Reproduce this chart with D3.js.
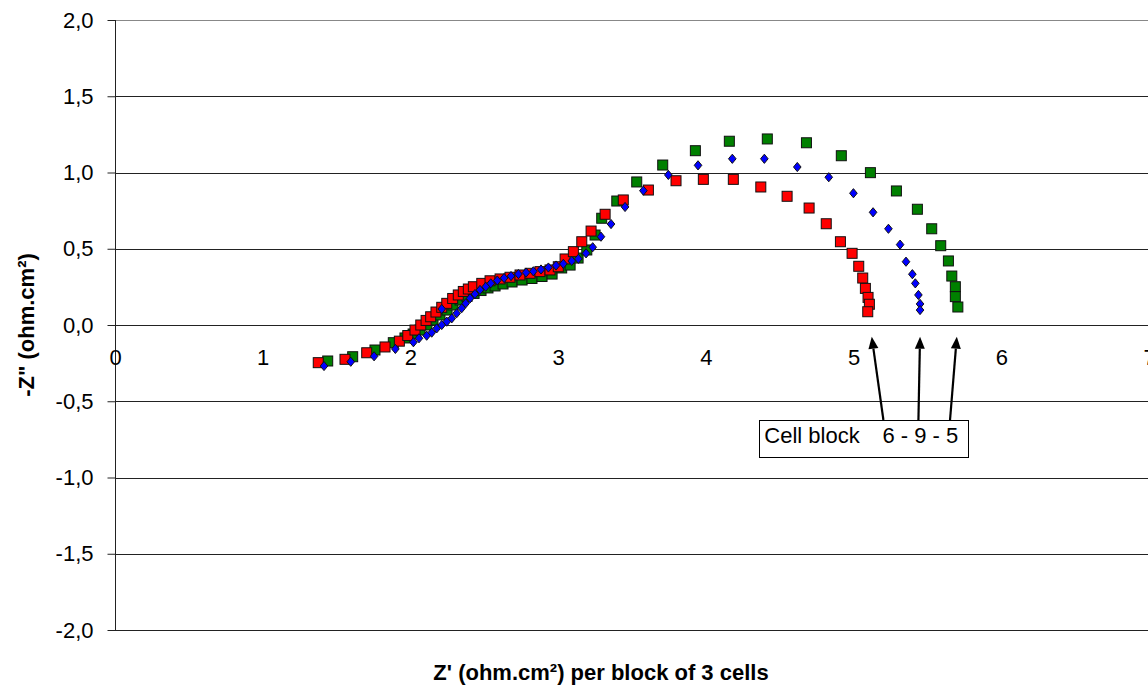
<!DOCTYPE html>
<html><head><meta charset="utf-8">
<script src="https://cdn.jsdelivr.net/npm/d3@7"></script>
<style>
html,body{margin:0;padding:0;background:#fff;}
svg{display:block;font-family:"Liberation Sans",Arial,sans-serif;}
</style></head><body>
<svg id="chart" width="1148" height="688"></svg>
<script>
// ---- data ----
const xTickValues = [0,1,2,3,4,5,6,7];
const yTickValues = [-2,-1.5,-1,-0.5,0,0.5,1,1.5,2];
const xTitle = "Z' (ohm.cm\u00B2) per block of 3 cells";
const yTitle = "-Z\" (ohm.cm\u00B2)";
const noteLabel = "Cell block";
const noteBlocks = "6 - 9 - 5";

// cell block 5 (green squares)
const block5 = [
 [1.440,-0.236],[1.609,-0.208],[1.760,-0.164],[1.884,-0.116],[1.963,-0.085],[2.018,-0.059],
 [2.065,-0.033],[2.112,0.000],[2.153,0.033],[2.200,0.066],[2.248,0.098],[2.288,0.131],
 [2.336,0.164],[2.383,0.187],[2.431,0.207],[2.478,0.226],[2.525,0.243],[2.573,0.256],
 [2.627,0.269],[2.688,0.282],[2.756,0.295],[2.823,0.305],[2.891,0.318],[2.959,0.334],
 [3.024,0.374],[3.081,0.393],[3.135,0.439],[3.194,0.492],[3.250,0.590],[3.295,0.700],
 [3.397,0.813],[3.532,0.938],[3.708,1.049],[3.929,1.143],[4.159,1.205],[4.416,1.220],
 [4.681,1.195],[4.917,1.110],[5.114,0.999],[5.290,0.879],[5.432,0.759],[5.529,0.631],
 [5.590,0.520],[5.642,0.420],[5.665,0.321],[5.689,0.251],[5.689,0.186],[5.706,0.118]
];
// cell block 6 (red squares)
const block6 = [
 [1.376,-0.247],[1.557,-0.225],[1.704,-0.182],[1.828,-0.144],[1.925,-0.106],[1.982,-0.069],
 [2.031,-0.033],[2.070,0.000],[2.106,0.030],[2.137,0.054],[2.173,0.085],[2.212,0.116],
 [2.246,0.142],[2.286,0.174],[2.324,0.197],[2.358,0.220],[2.392,0.236],[2.426,0.251],
 [2.483,0.273],[2.539,0.290],[2.607,0.302],[2.674,0.313],[2.742,0.328],[2.810,0.339],
 [2.877,0.350],[2.945,0.361],[3.001,0.382],[3.047,0.433],[3.103,0.481],[3.160,0.546],
 [3.223,0.616],[3.318,0.726],[3.441,0.820],[3.611,0.885],[3.798,0.946],[3.983,0.955],
 [4.186,0.955],[4.372,0.905],[4.550,0.844],[4.699,0.767],[4.815,0.664],[4.911,0.546],
 [4.990,0.470],[5.035,0.385],[5.062,0.308],[5.080,0.240],[5.098,0.181],[5.107,0.136],[5.096,0.087]
];
// cell block 9 (blue diamonds)
const block9 = [
 [1.415,-0.269],[1.596,-0.241],[1.754,-0.205],[1.898,-0.157],[2.020,-0.113],[2.058,-0.087],
 [2.110,-0.070],[2.144,-0.050],[2.178,-0.022],[2.212,0.000],[2.212,0.105],[2.246,0.022],[2.280,0.044],
 [2.313,0.077],[2.347,0.110],[2.374,0.142],[2.404,0.175],[2.437,0.203],[2.471,0.230],
 [2.510,0.251],[2.544,0.273],[2.588,0.292],[2.634,0.308],[2.681,0.321],[2.731,0.334],
 [2.783,0.344],[2.832,0.352],[2.884,0.364],[2.934,0.377],[2.986,0.390],[3.035,0.401],
 [3.092,0.420],[3.137,0.434],[3.189,0.470],[3.234,0.510],[3.290,0.579],[3.358,0.662],
 [3.453,0.774],[3.577,0.881],[3.746,0.984],[3.947,1.047],[4.179,1.090],[4.396,1.090],
 [4.619,1.036],[4.832,0.969],[4.999,0.864],[5.132,0.739],[5.236,0.631],[5.315,0.527],
 [5.355,0.415],[5.398,0.333],[5.418,0.273],[5.439,0.197],[5.450,0.138],[5.450,0.098]
];
// annotation anchors (data units)
const arrowFrom = [[5.202,-0.623],[5.439,-0.623],[5.653,-0.623]];
const arrowTo   = [[5.123,-0.077],[5.450,-0.077],[5.699,-0.077]];
const noteBoxX = [4.362,5.780];
const noteBoxY = [-0.623,-0.864];

// ---- layout ----
const svg = d3.select("#chart");
const x = d3.scaleLinear().domain([0,7]).range([115,1149]);
const y = d3.scaleLinear().domain([-2,2]).range([630,20]);
const FONT = 22;
const crisp = v => Math.round(v)+0.5;

// gridlines
svg.append("g").selectAll("line").data(yTickValues).join("line")
  .attr("x1",115).attr("x2",1148)
  .attr("y1",d=>crisp(y(d))).attr("y2",d=>crisp(y(d)))
  .attr("stroke",d=>d===2?"#888":"#222").attr("stroke-width",1);

// y axis
const fmt = d => (d<0?"-":"") + Math.abs(d).toFixed(1).replace(".",",");
const gy = svg.append("g").attr("transform",`translate(${crisp(x(0))},0)`)
  .call(d3.axisLeft(y).tickValues(yTickValues).tickSize(8).tickPadding(14).tickFormat(fmt));
gy.select(".domain").attr("stroke","#222").attr("d",`M0,${y(2)}V${y(-2)}`);
gy.selectAll(".tick line").attr("stroke","#222");
gy.selectAll(".tick text").attr("font-size",FONT).attr("font-family","Liberation Sans, Arial, sans-serif").attr("fill","#000");

// x axis at y=0 (labels only)
const gx = svg.append("g").attr("transform",`translate(0,${crisp(y(0))})`)
  .call(d3.axisBottom(x).tickValues(xTickValues).tickSize(0).tickPadding(24).tickFormat(d=>String(d)));
gx.select(".domain").remove();
gx.selectAll(".tick text").attr("font-size",FONT).attr("font-family","Liberation Sans, Arial, sans-serif").attr("fill","#000");

// titles
svg.append("text").attr("x",601).attr("y",680).attr("text-anchor","middle")
  .attr("font-weight","bold").attr("font-size",FONT).text(xTitle);
svg.append("text").attr("transform",`translate(34,${y(0)}) rotate(-90)`).attr("text-anchor","middle")
  .attr("font-weight","bold").attr("font-size",FONT).text(yTitle);

// series
const sq = 10;
function squares(data, fill){
  svg.append("g").selectAll("rect").data(data).join("rect")
    .attr("x",d=>x(d[0])-sq/2).attr("y",d=>y(d[1])-sq/2)
    .attr("width",sq).attr("height",sq)
    .attr("fill",fill).attr("stroke","#111").attr("stroke-width",1);
}
squares(block5,"#008000");
squares(block6,"#ff0000");
svg.append("g").selectAll("path").data(block9).join("path")
  .attr("transform",d=>`translate(${x(d[0])},${y(d[1])})`)
  .attr("d","M0,-4.6L3.8,0L0,4.6L-3.8,0Z")
  .attr("fill","#0000ff").attr("stroke","#111").attr("stroke-width",1);

// annotation box
const bx0 = x(noteBoxX[0]), bx1 = x(noteBoxX[1]), by0 = y(noteBoxY[0]), by1 = y(noteBoxY[1]);
svg.append("rect").attr("x",crisp(bx0)).attr("y",crisp(by0)).attr("width",Math.round(bx1-bx0)).attr("height",Math.round(by1-by0))
  .attr("fill","#fff").attr("stroke","#000").attr("stroke-width",1);
svg.append("text").attr("x",bx0+5).attr("y",by0+23).attr("font-size",FONT).text(noteLabel);
svg.append("text").attr("x",x(arrowFrom[0][0])-1).attr("y",by0+23).attr("font-size",FONT).text(noteBlocks);

// arrows
arrowFrom.forEach((f,i)=>{
  const t = arrowTo[i];
  const x1=x(f[0]), y1=y(f[1]), x2=x(t[0]), y2=y(t[1]);
  const dx=x2-x1, dy=y2-y1, L=Math.hypot(dx,dy), ux=dx/L, uy=dy/L;
  const hl=12, hw=5;
  const bxp=x2-ux*hl, byp=y2-uy*hl;
  svg.append("line").attr("x1",x1).attr("y1",y1).attr("x2",bxp).attr("y2",byp)
    .attr("stroke","#000").attr("stroke-width",2.2);
  svg.append("path").attr("d",`M${x2},${y2}L${bxp-uy*hw},${byp+ux*hw}L${bxp+uy*hw},${byp-ux*hw}Z`).attr("fill","#000");
});
</script>
</body></html>
